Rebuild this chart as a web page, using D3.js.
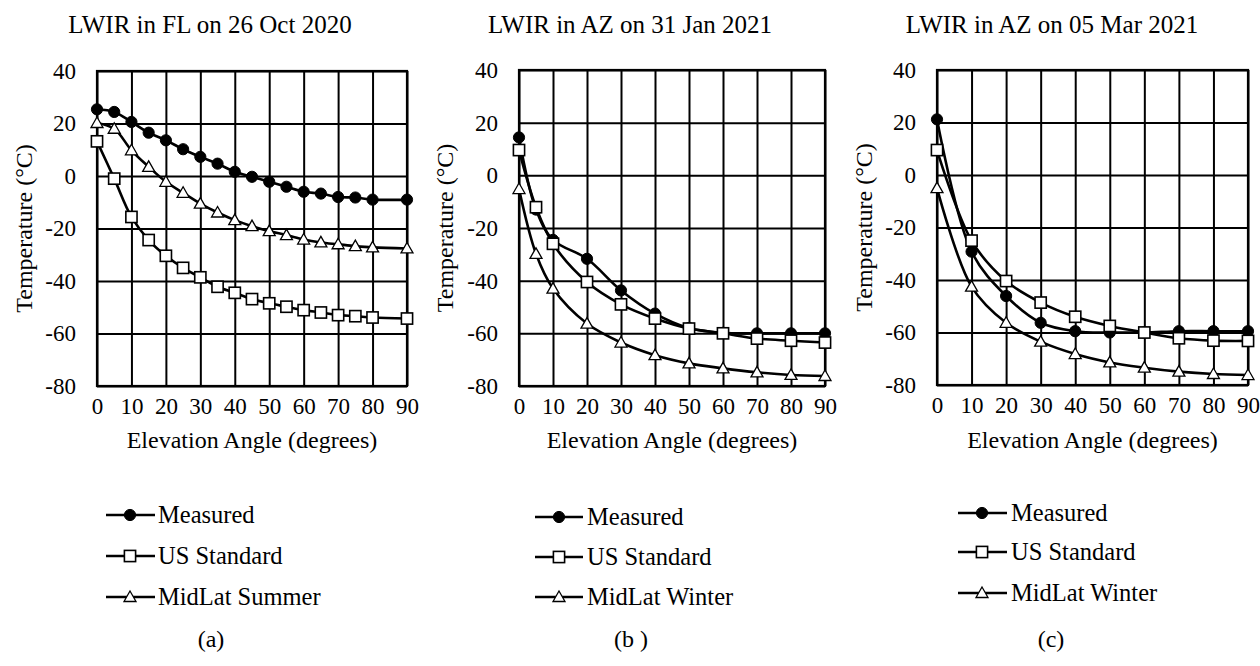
<!DOCTYPE html>
<html>
<head>
<meta charset="utf-8">
<script src="https://cdn.jsdelivr.net/npm/d3@7"></script>
<style>
html,body{margin:0;padding:0;background:#fff;}
svg text{font-family:"Liberation Serif",serif !important;fill:#000;}
</style>
</head>
<body>
<svg id="chart" width="1260" height="666"></svg>
<script>
// ---------- data ----------
const titles = ["LWIR in FL on 26 Oct 2020", "LWIR in AZ on 31 Jan 2021", "LWIR in AZ on 05 Mar 2021"];
const captions = ["(a)", "(b )", "(c)"];
const xTicks = [0, 10, 20, 30, 40, 50, 60, 70, 80, 90];
const yTicks = [40, 20, 0, -20, -40, -60, -80];
const xTitle = "Elevation Angle (degrees)";
const yTitle = "Temperature (°C)";
const seriesNamesA = ["Measured", "US Standard", "MidLat Summer"];
const seriesNamesBC = ["Measured", "US Standard", "MidLat Winter"];

const anglesA = [0, 5, 10, 15, 20, 25, 30, 35, 40, 45, 50, 55, 60, 65, 70, 75, 80, 90];
const measuredA = [25.4, 24.4, 20.6, 16.5, 13.6, 10.2, 7.3, 4.7, 1.6, -0.3, -2.2, -4.1, -6, -6.7, -8, -8.2, -9, -9];
const usStandardA = [13.2, -1, -15.6, -24.4, -30.4, -35, -38.6, -42.2, -44.5, -46.9, -48.5, -49.8, -51.1, -52, -53, -53.4, -53.9, -54.3];
const midLatSummerA = [20.2, 18, 9.8, 3.5, -2.2, -6.4, -10.5, -13.9, -16.8, -19.1, -21, -22.5, -24.2, -25.3, -26, -26.7, -27.2, -27.6];

const anglesB = [0, 5, 10, 20, 30, 40, 50, 60, 70, 80, 90];
const measuredB = [14.4, -13, -24.5, -31.7, -43.7, -52.5, -58, -59.8, -60, -60, -60];
const usStandardB = [9.6, -12.1, -26, -40.5, -49, -54.4, -58.2, -60, -62, -62.8, -63.5];
const midLatWinterB = [-5.2, -29.8, -43, -56.3, -63.5, -68.3, -71.4, -73.3, -74.8, -75.8, -76.2];

const anglesC = [0, 10, 20, 30, 40, 50, 60, 70, 80, 90];
const measuredC = [21.2, -29.2, -46.1, -56.3, -59.5, -60, -60, -59.5, -59.5, -59.5];
const usStandardC = [9.5, -25, -40.4, -48.6, -54, -57.5, -60, -62.2, -63.1, -63.2];
const midLatWinterC = [-5, -42.5, -56.3, -63.5, -68.2, -71.4, -73.4, -74.9, -75.8, -76.2];

// ---------- layout ----------
const panels = [
  {x: anglesA, series: [measuredA, usStandardA, midLatSummerA], names: seriesNamesA,
   plot: {l: 97, r: 407, t: 71, b: 386}, titleX: 210, yLabelX: 24, legend: {x0: 106, x1: 155, m: 130, tx: 158, ys: [515, 556, 597]}, capX: 211},
  {x: anglesB, series: [measuredB, usStandardB, midLatWinterB], names: seriesNamesBC,
   plot: {l: 519, r: 825, t: 70, b: 386}, titleX: 630, yLabelX: 445, legend: {x0: 535, x1: 583, m: 559, tx: 587, ys: [517, 557, 597]}, capX: 631},
  {x: anglesC, series: [measuredC, usStandardC, midLatWinterC], names: seriesNamesBC,
   plot: {l: 937, r: 1248, t: 70, b: 385}, titleX: 1052, yLabelX: 864, legend: {x0: 958, x1: 1007, m: 982, tx: 1011, ys: [513, 552, 593]}, capX: 1051}
];

const svg = d3.select("#chart");
const markerTypes = ["circle", "square", "triangle"];

function drawMarker(g, type, cx, cy) {
  if (type === "circle") {
    g.append("circle").attr("cx", cx).attr("cy", cy).attr("r", 5.6)
      .attr("fill", "#000").attr("stroke", "#000").attr("stroke-width", 1);
  } else if (type === "square") {
    g.append("rect").attr("x", cx - 5.6).attr("y", cy - 5.6).attr("width", 11.2).attr("height", 11.2)
      .attr("fill", "#fff").attr("stroke", "#000").attr("stroke-width", 1.6);
  } else {
    const s = 6;
    g.append("path")
      .attr("d", `M${cx},${cy - s}L${cx + s},${cy + s * 0.75}L${cx - s},${cy + s * 0.75}Z`)
      .attr("fill", "#fff").attr("stroke", "#000").attr("stroke-width", 1.3);
  }
}

panels.forEach((p, pi) => {
  const x = d3.scaleLinear().domain([0, 90]).range([p.plot.l, p.plot.r]);
  const y = d3.scaleLinear().domain([-80, 40]).range([p.plot.b, p.plot.t]);
  const g = svg.append("g");

  g.append("text").attr("x", p.titleX).attr("y", 33).attr("text-anchor", "middle")
    .attr("font-size", 25).text(titles[pi]);

  const gx = g.append("g").attr("transform", `translate(0,${p.plot.b})`)
    .call(d3.axisBottom(x).tickValues(xTicks).tickSize(-(p.plot.b - p.plot.t)).tickFormat(d => d).tickPadding(12));
  gx.select(".domain").remove();
  gx.selectAll("line").attr("stroke", "#000").attr("stroke-width", 2);
  gx.selectAll("text").attr("font-size", 23).attr("fill", "#000");

  const gy = g.append("g").attr("transform", `translate(${p.plot.l},0)`)
    .call(d3.axisLeft(y).tickValues(yTicks).tickSize(-(p.plot.r - p.plot.l)).tickFormat(d => d).tickPadding(21));
  gy.select(".domain").remove();
  gy.selectAll("line").attr("stroke", "#000").attr("stroke-width", 2);
  gy.selectAll("text").attr("font-size", 23).attr("fill", "#000");

  g.append("rect").attr("x", p.plot.l).attr("y", p.plot.t)
    .attr("width", p.plot.r - p.plot.l).attr("height", p.plot.b - p.plot.t)
    .attr("fill", "none").attr("stroke", "#000").attr("stroke-width", 2.2);

  g.append("text").attr("x", (p.plot.l + p.plot.r) / 2).attr("y", 448).attr("text-anchor", "middle")
    .attr("font-size", 24).text(xTitle);
  g.append("text").attr("transform", `translate(${p.yLabelX + 8},${(p.plot.t + p.plot.b) / 2}) rotate(-90)`)
    .attr("text-anchor", "middle").attr("font-size", 24).text(yTitle);

  const line = d3.line().x(d => x(d[0])).y(d => y(d[1])).curve(d3.curveCatmullRom.alpha(0.5));
  p.series.forEach((vals, si) => {
    const pts = p.x.map((a, i) => [a, vals[i]]);
    const sg = g.append("g");
    sg.append("path").attr("d", line(pts)).attr("fill", "none").attr("stroke", "#000").attr("stroke-width", 2.6);
    pts.forEach(d => drawMarker(sg, markerTypes[si], x(d[0]), y(d[1])));
  });

  p.names.forEach((name, si) => {
    const ly = p.legend.ys[si];
    const lg = g.append("g");
    lg.append("line").attr("x1", p.legend.x0).attr("x2", p.legend.x1).attr("y1", ly).attr("y2", ly)
      .attr("stroke", "#000").attr("stroke-width", 2.6);
    drawMarker(lg, markerTypes[si], p.legend.m, ly);
    lg.append("text").attr("x", p.legend.tx).attr("y", ly + 8).attr("font-size", 24.5).text(name);
  });

  g.append("text").attr("x", p.capX).attr("y", 647).attr("text-anchor", "middle")
    .attr("font-size", 24).text(captions[pi]);
});
</script>
</body>
</html>
